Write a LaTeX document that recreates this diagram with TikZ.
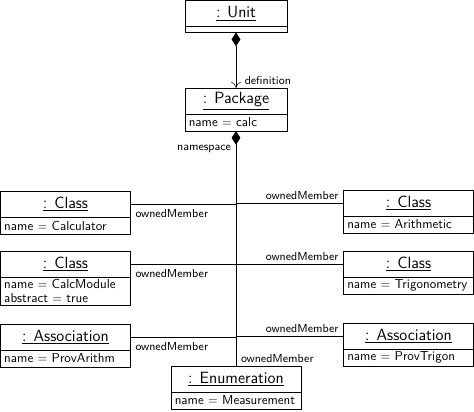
\documentclass[tikz,border=0pt]{standalone}
\usepackage{tikz}
\usetikzlibrary{arrows.meta}
\usetikzlibrary{positioning,shapes,fit}
\renewcommand{\familydefault}{\sfdefault}
\hyphenpenalty=10000

\begin{document}
\begin{tikzpicture}[%
        x=0.8pt, y=-0.8pt,
        every node/.style={rectangle, outer sep=0pt, font=\sffamily},
        head/.style={draw, minimum height=20.8pt, inner sep=2pt, font=\sffamily\fontsize{13}{15}\selectfont},
        attr/.style={draw, align=left, inner xsep=3pt, inner ysep=2pt, minimum height=13.6pt, font=\sffamily\fontsize{10.4}{11}\selectfont},
        lbl/.style={inner sep=1pt, font=\sffamily\fontsize{9.3}{11}\selectfont},
        comp/.style={{Diamond[length=11pt,width=7pt]}-},
        node distance=0pt
      ]
      \useasboundingbox (0,0) rectangle (474,411);
      % unit and package
      \node [head, minimum width=81.6pt, anchor=north] (unit) at (236,0.5) {\underline{: Unit}};
      \node [draw, minimum width=81.6pt, minimum height=4.8pt, inner sep=0pt, below=of unit] (unitA) {};
      \node [head, minimum width=81.6pt, anchor=north] (pkg) at (236,88) {\underline{: Package}};
      \node [attr, text width=75.6pt, below=of pkg] (pkgA) {name $=$ calc};
      % left column
      \node [head, minimum width=104pt, anchor=north west] (calc) at (0.5,191) {\underline{: Class}};
      \node [attr, text width=98pt, below=of calc] (calcA) {name $=$ Calculator};
      \node [head, minimum width=104pt, anchor=north west] (mod) at (0.5,251) {\underline{: Class}};
      \node [attr, text width=98pt, below=of mod] (modA) {name $=$ CalcModule\\abstract $=$ true};
      \node [head, minimum width=104pt, anchor=north west] (provA) at (0.5,324) {\underline{: Association}};
      \node [attr, text width=98pt, below=of provA] (provAA) {name $=$ ProvArithm};
      % right column
      \node [head, minimum width=104pt, anchor=north east] (arith) at (473.5,190) {\underline{: Class}};
      \node [attr, text width=98pt, below=of arith] (arithA) {name $=$ Arithmetic};
      \node [head, minimum width=104pt, anchor=north east] (trig) at (473.5,251) {\underline{: Class}};
      \node [attr, text width=98pt, below=of trig] (trigA) {name $=$ Trigonometry};
      \node [head, minimum width=104pt, anchor=north east] (provT) at (473.5,323) {\underline{: Association}};
      \node [attr, text width=98pt, below=of provT] (provTA) {name $=$ ProvTrigon};
      % enumeration
      \node [head, minimum width=104pt, anchor=north] (enum) at (236,366) {\underline{: Enumeration}};
      \node [attr, text width=98pt, below=of enum] (enumA) {name $=$ Measurement};
      % links
      \path [draw] (unitA.south) edge[{Diamond[length=11pt,width=7pt]}-{To[length=5pt,width=8pt]}]
        node [lbl, at end, anchor=south west, xshift=6pt, yshift=2pt] {definition} (pkg.north);
      \draw [comp] (pkgA.south) -- (enum.north)
        node [lbl, at start, anchor=north east, xshift=-3pt, yshift=-10pt] {namespace}
        node [lbl, at end, anchor=south west, xshift=3pt, yshift=2pt] {ownedMember};
      \draw (calc.east) -- (calc.east -| pkgA.south) node [lbl, at start, anchor=north west, xshift=3pt, yshift=-3pt] {ownedMember};
      \draw (mod.east) -- (mod.east -| pkgA.south) node [lbl, at start, anchor=north west, xshift=3pt, yshift=-3pt] {ownedMember};
      \draw (provA.east) -- (provA.east -| pkgA.south) node [lbl, at start, anchor=north west, xshift=3pt, yshift=-3pt] {ownedMember};
      \draw (arith.west) -- (arith.west -| pkgA.south) node [lbl, at start, anchor=south east, xshift=-3pt, yshift=2pt] {ownedMember};
      \draw (trig.west) -- (trig.west -| pkgA.south) node [lbl, at start, anchor=south east, xshift=-3pt, yshift=2pt] {ownedMember};
      \draw (provT.west) -- (provT.west -| pkgA.south) node [lbl, at start, anchor=south east, xshift=-3pt, yshift=2pt] {ownedMember};
    \end{tikzpicture}
\end{document}
